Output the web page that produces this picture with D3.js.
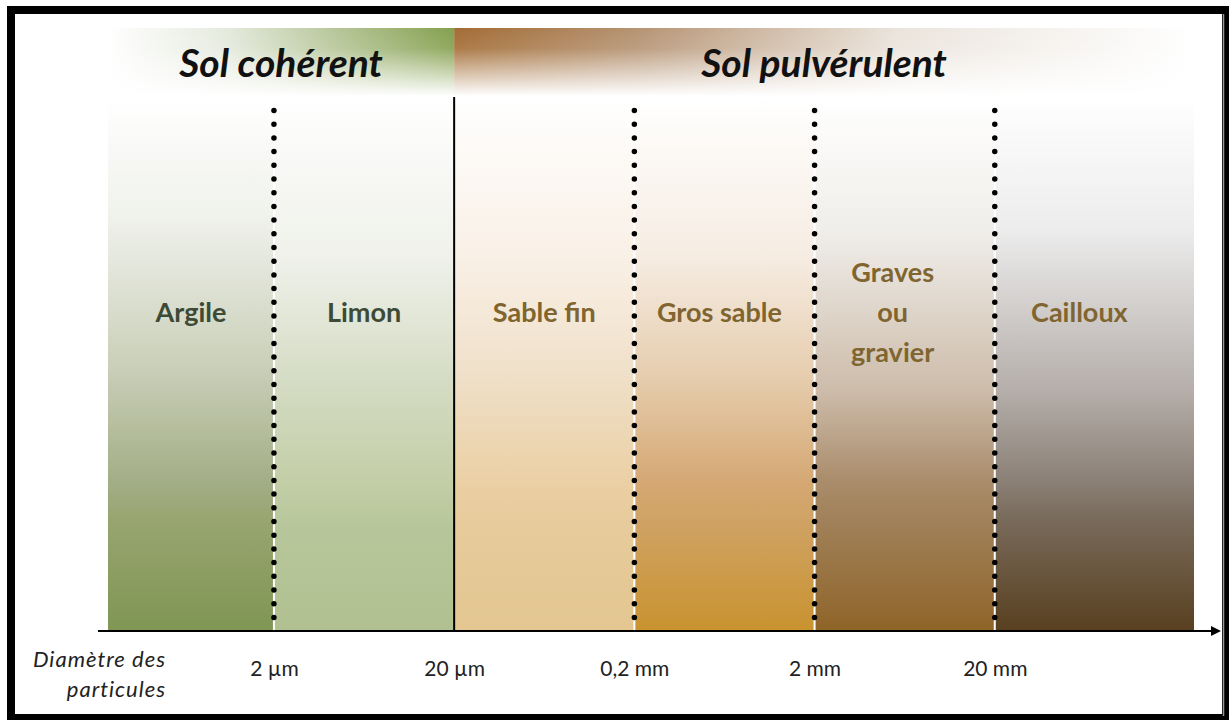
<!DOCTYPE html>
<html>
<head>
<meta charset="utf-8">
<title>Sols - diamètre des particules</title>
<style>
  body { margin: 0; background: #fff; }
  text { font-family: Lato, "Open Sans", sans-serif; }
</style>
</head>
<body>
<script src="https://d3js.org/d3.v7.min.js"></script>
<script>
// --- data ---
let classes = ["Argile", "Limon", "Sable fin", "Gros sable", "Graves|ou|gravier", "Cailloux"];
let limits = [0.00024, 0.002, 0.02, 0.2, 2, 20, 255];        // mm
let tickValues = [0.002, 0.02, 0.2, 2, 20];
let tickLabels = ["2 µm", "20 µm", "0,2 mm", "2 mm", "20 mm"];
let groups = ["Sol cohérent", "Sol pulvérulent"];
let groupLimits = [[0.00024, 0.02], [0.02, 255]];
let axisTitle = ["Diamètre des", "particules"];

// gradient stops per class (top -> bottom)
let stops = [
  [[0, "#ffffff"], [0.22, "#f0f2ec"], [0.5, "#cbd0ba"], [0.72, "#a3ae86"], [0.8, "#97a46e"], [1, "#7f9654"]],
  [[0, "#ffffff"], [0.3, "#eff1ea"], [0.53, "#d5dcc4"], [0.72, "#c3cea7"], [0.8, "#b8c79b"], [1, "#b0c090"]],
  [[0, "#ffffff"], [0.3, "#f9f0e6"], [0.53, "#efdfc7"], [0.72, "#ebd0a5"], [0.8, "#e7cb9c"], [1, "#e3c690"]],
  [[0, "#ffffff"], [0.3, "#f6ece2"], [0.53, "#e5ccac"], [0.72, "#d5a874"], [0.8, "#cfa263"], [1, "#c9932f"]],
  [[0, "#ffffff"], [0.25, "#f0eeea"], [0.55, "#cdbcaa"], [0.72, "#a98c6a"], [0.8, "#a08058"], [1, "#8f6428"]],
  [[0, "#ffffff"], [0.25, "#ececec"], [0.55, "#b5aeaa"], [0.72, "#8a8076"], [0.8, "#776858"], [1, "#58401f"]]
];
let labelColors = ["#3d4a35", "#3d4a35", "#806530", "#806530", "#806530", "#806530"];
let labelShift = [0, 0, 0, -5, -12, -15];

let W = 1229, H = 720;
let bandTop = 97, axisY = 631;

let svg = d3.select("body").append("svg").attr("width", W).attr("height", H);
let defs = svg.append("defs");

let x = d3.scaleLog().domain([limits[0], limits[limits.length - 1]]).range([108, 1194]);

// band gradients
classes.forEach(function(c, i) {
  let g = defs.append("linearGradient").attr("id", "band" + i)
    .attr("x1", 0).attr("y1", 0).attr("x2", 0).attr("y2", 1);
  stops[i].forEach(s => g.append("stop").attr("offset", s[0]).attr("stop-color", s[1]));
});

// header gradients
let hg1 = defs.append("linearGradient").attr("id", "head0");
hg1.append("stop").attr("offset", 0).attr("stop-color", "#ffffff");
hg1.append("stop").attr("offset", 0.35).attr("stop-color", "#e4e9dc");
hg1.append("stop").attr("offset", 1).attr("stop-color", "#84a04e");
let hg2 = defs.append("linearGradient").attr("id", "head1");
hg2.append("stop").attr("offset", 0).attr("stop-color", "#a36c34");
hg2.append("stop").attr("offset", 0.25).attr("stop-color", "#b69474");
hg2.append("stop").attr("offset", 0.6).attr("stop-color", "#ebe4dc");
hg2.append("stop").attr("offset", 1).attr("stop-color", "#ffffff");
let fade = defs.append("linearGradient").attr("id", "fade")
  .attr("x1", 0).attr("y1", 0).attr("x2", 0).attr("y2", 1);
fade.append("stop").attr("offset", 0).attr("stop-color", "#fff").attr("stop-opacity", 0);
fade.append("stop").attr("offset", 0.3).attr("stop-color", "#fff").attr("stop-opacity", 0.1);
fade.append("stop").attr("offset", 1).attr("stop-color", "#fff").attr("stop-opacity", 1);

let marker = defs.append("marker").attr("id", "arrow")
  .attr("viewBox", "0 0 10 10").attr("refX", 0).attr("refY", 5)
  .attr("markerUnits", "userSpaceOnUse").attr("markerWidth", 11).attr("markerHeight", 10)
  .attr("orient", "auto");
marker.append("path").attr("d", "M0,0 L10,5 L0,10 Z").attr("fill", "#000");

// header
svg.selectAll(".head").data(groups).enter().append("rect")
  .attr("x", (d, i) => x(groupLimits[i][0]))
  .attr("y", 28)
  .attr("width", (d, i) => x(groupLimits[i][1]) - x(groupLimits[i][0]))
  .attr("height", 68)
  .attr("fill", (d, i) => "url(#head" + i + ")");
svg.append("rect").attr("x", 100).attr("y", 28).attr("width", 1100).attr("height", 68)
  .attr("fill", "url(#fade)");
svg.selectAll(".headText").data(groups).enter().append("text")
  .attr("x", (d, i) => (x(groupLimits[i][0]) + x(groupLimits[i][1])) / 2)
  .attr("y", 77)
  .attr("text-anchor", "middle")
  .attr("font-size", 39).attr("font-weight", "bold").attr("font-style", "italic")
  .attr("fill", "#111")
  .text(d => d);

// bands
svg.selectAll(".band").data(classes).enter().append("rect")
  .attr("x", (d, i) => x(limits[i]))
  .attr("y", bandTop)
  .attr("width", (d, i) => x(limits[i + 1]) - x(limits[i]))
  .attr("height", axisY - bandTop)
  .attr("fill", (d, i) => "url(#band" + i + ")");

// band labels
classes.forEach(function(c, i) {
  let lines = c.split("|");
  let cx = (x(limits[i]) + x(limits[i + 1])) / 2 + labelShift[i];
  let t = svg.append("text").attr("text-anchor", "middle")
    .attr("font-size", 27).attr("font-weight", "bold").attr("fill", labelColors[i]);
  lines.forEach(function(l, j) {
    t.append("tspan").attr("x", cx)
      .attr("y", 322 + (j - (lines.length - 1) / 2) * 40)
      .text(l);
  });
});

// separators
tickValues.forEach(function(v, i) {
  if (i == 1) {
    svg.append("line").attr("x1", x(v)).attr("x2", x(v)).attr("y1", bandTop).attr("y2", axisY)
      .attr("stroke", "#000").attr("stroke-width", 2);
  } else {
    svg.append("line").attr("x1", x(v)).attr("x2", x(v)).attr("y1", 150).attr("y2", axisY)
      .attr("stroke", "#fff").attr("stroke-width", 2);
    svg.append("line").attr("x1", x(v)).attr("x2", x(v)).attr("y1", 110.5).attr("y2", axisY)
      .attr("stroke", "#000").attr("stroke-width", 5.5)
      .attr("stroke-linecap", "round").attr("stroke-dasharray", "0 13.7");
  }
});

// axis
svg.append("line").attr("x1", 98).attr("x2", 1211).attr("y1", axisY).attr("y2", axisY)
  .attr("stroke", "#000").attr("stroke-width", 2.2).attr("marker-end", "url(#arrow)");

let axis = svg.append("g").attr("transform", "translate(0," + axisY + ")")
  .call(d3.axisBottom(x).tickValues(tickValues).tickFormat((d, i) => tickLabels[i])
    .tickSize(0).tickPadding(30));
axis.select(".domain").remove();
axis.selectAll("text").attr("font-family", "Lato, sans-serif").attr("font-size", 21).attr("fill", "#222");

svg.selectAll(".atitle").data(axisTitle).enter().append("text")
  .attr("x", 166).attr("y", (d, i) => 667 + i * 30)
  .attr("text-anchor", "end").attr("font-size", 22).attr("font-style", "italic")
  .attr("letter-spacing", 1).attr("fill", "#222")
  .text(d => d);

// frame
svg.append("rect").attr("x", 11).attr("y", 10).attr("width", 1215).attr("height", 708)
  .attr("fill", "none").attr("stroke", "#000").attr("stroke-width", 8);
svg.append("line").attr("x1", 1223.5).attr("x2", 1223.5).attr("y1", 14).attr("y2", 716)
  .attr("stroke", "#999").attr("stroke-width", 1.5);
</script>
</body>
</html>
